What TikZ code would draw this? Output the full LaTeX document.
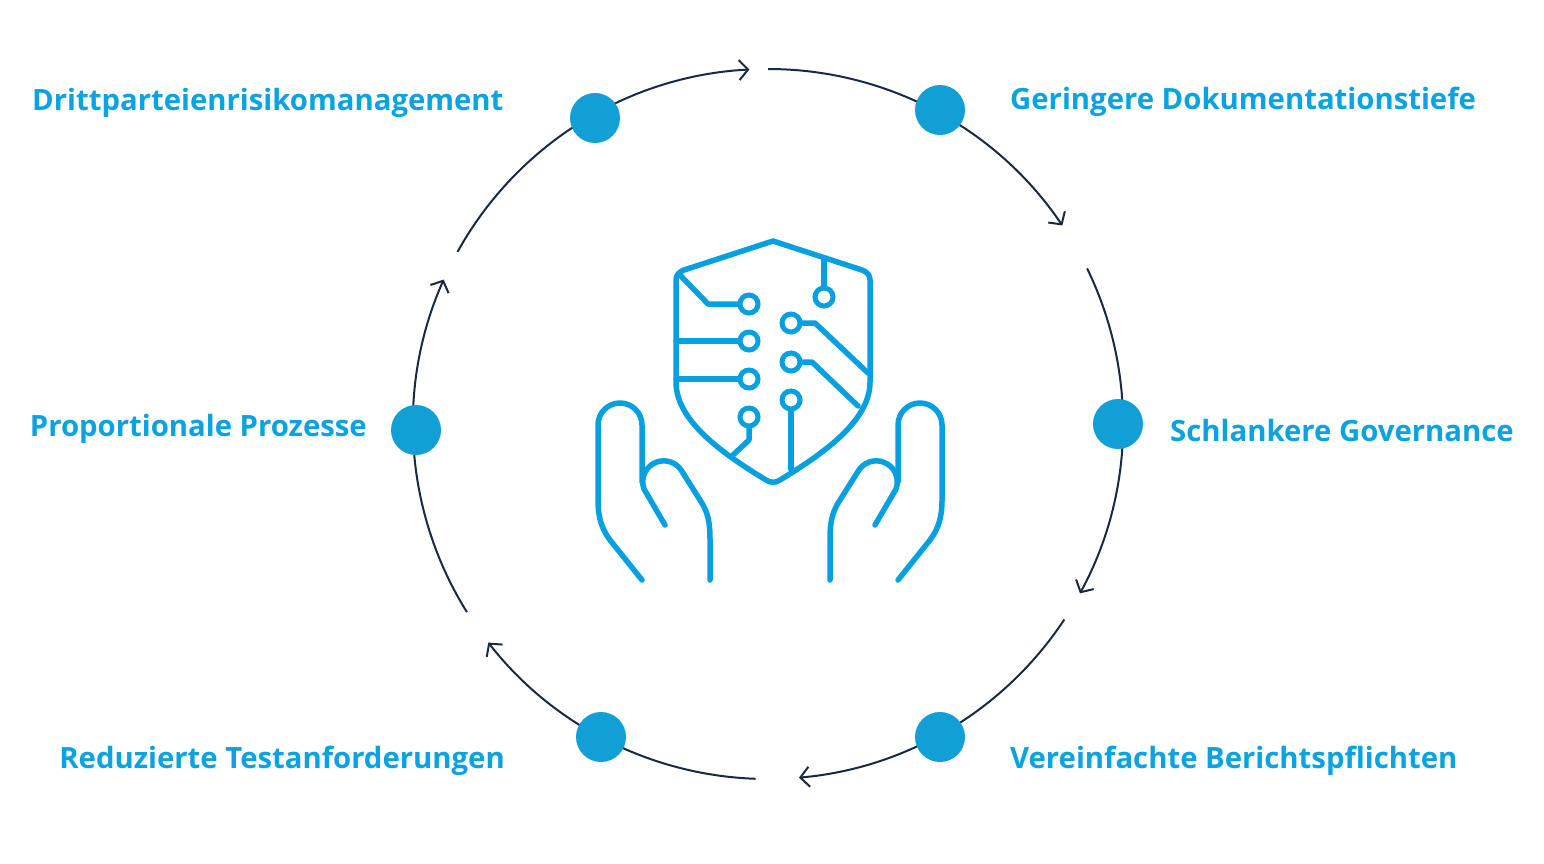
\documentclass[tikz,border=0pt]{standalone}
\usepackage{fontspec}
\setmainfont{Open Sans}
\usetikzlibrary{arrows.meta}
\definecolor{lbl}{HTML}{0AA2E0}
\definecolor{dotc}{HTML}{119FD6}
\definecolor{navy}{HTML}{1B2940}
\definecolor{ico}{HTML}{06A0E0}
\begin{document}
\begin{tikzpicture}[x=1pt,y=-1pt,
  arc/.style={navy,line width=2pt,-{Straight Barb[length=9pt,width=20pt,line width=2pt]}},
  dot/.style={circle,fill=dotc,minimum size=50pt,inner sep=0pt},
  lab/.style={lbl,font=\fontsize{29.3}{32}\selectfont\bfseries,inner sep=0pt},
  ic/.style={ico,line width=5.5pt,line cap=round,line join=round},
  ring/.style={circle,draw=ico,line width=5pt,minimum size=18pt,inner sep=0pt}]
\useasboundingbox (0,0) rectangle (1544,863);
\coordinate (O) at (768,424);
\draw[arc] ([shift={(-151:355)}]O) arc (-151:-93:355);
\draw[arc] ([shift={(-90:355)}]O) arc (-90:-34:355);
\draw[arc] ([shift={(-26:355)}]O) arc (-26:28.5:355);
\draw[arc] ([shift={(33.4:355)}]O) arc (33.4:85:355);
\draw[arc] ([shift={(92:355)}]O) arc (92:142:355);
\draw[arc] ([shift={(148:355)}]O) arc (148:204:355);
\node[dot] (d1) at (595,118) {};
\node[dot] (d2) at (940,110) {};
\node[dot] (d3) at (1118,424) {};
\node[dot] (d4) at (940,737) {};
\node[dot] (d5) at (601,737) {};
\node[dot] (d6) at (416,430) {};
\node[lab,anchor=west] (l1) at (32,103) {Drittparteienrisikomanagement};
\node[lab,anchor=west] (l2) at (1010,102) {Geringere Dokumentationstiefe};
\node[lab,anchor=west] (l3) at (1170,431) {Schlankere Governance};
\node[lab,anchor=west] (l4) at (1010,761) {Vereinfachte Berichtspflichten};
\node[lab,anchor=east] (l5) at (505,761) {Reduzierte Testanforderungen};
\node[lab,anchor=east] (l6) at (367,429) {Proportionale Prozesse};
\draw[ic] (773,241) -- (684,270) .. controls (679,272) and (676,275) .. (676,280) -- (676,382)
  .. controls (676,420) and (720,452) .. (766,480) .. controls (770,483) and (776,483) .. (780,480)
  .. controls (826,452) and (870,420) .. (870,382) -- (870,280) .. controls (870,275) and (867,272) .. (862,270) -- cycle;
\node[ring] (c1) at (749,304) {};
\node[ring] (c2) at (749,341) {};
\node[ring] (c3) at (749,379) {};
\node[ring] (c4) at (749,417) {};
\node[ring] (c5) at (824,297) {};
\node[ring] (c6) at (791,323) {};
\node[ring] (c7) at (791,362) {};
\node[ring] (c8) at (791,400) {};
\draw[ic] (679,274) -- (708,304) -- (c1.west);
\draw[ic] (676,341) -- (c2.west);
\draw[ic] (676,379) -- (c3.west);
\draw[ic] (c4.south) -- (749,440) -- (733,455);
\draw[ic] (824,258) -- (c5.north);
\draw[ic] (c6.east) -- (815,323) -- (868,373);
\draw[ic] (c7.east) -- (812,362) -- (858,406);
\draw[ic] (c8.south) -- (791,469);
\begin{scope}[ic]
\draw (642,580) -- (610,540) .. controls (601,528) and (598,516) .. (598,500) -- (598,425) arc (180:360:22) -- (642,482);
\draw (665,525) -- (644,489) arc (160:330:21) -- (700,500) .. controls (708,512) and (710,522) .. (710,540) -- (710,580);
\begin{scope}[xshift=1540pt,xscale=-1]
\draw (642,580) -- (610,540) .. controls (601,528) and (598,516) .. (598,500) -- (598,425) arc (180:360:22) -- (642,482);
\draw (665,525) -- (644,489) arc (160:330:21) -- (700,500) .. controls (708,512) and (710,522) .. (710,540) -- (710,580);
\end{scope}
\end{scope}
\end{tikzpicture}
\end{document}
